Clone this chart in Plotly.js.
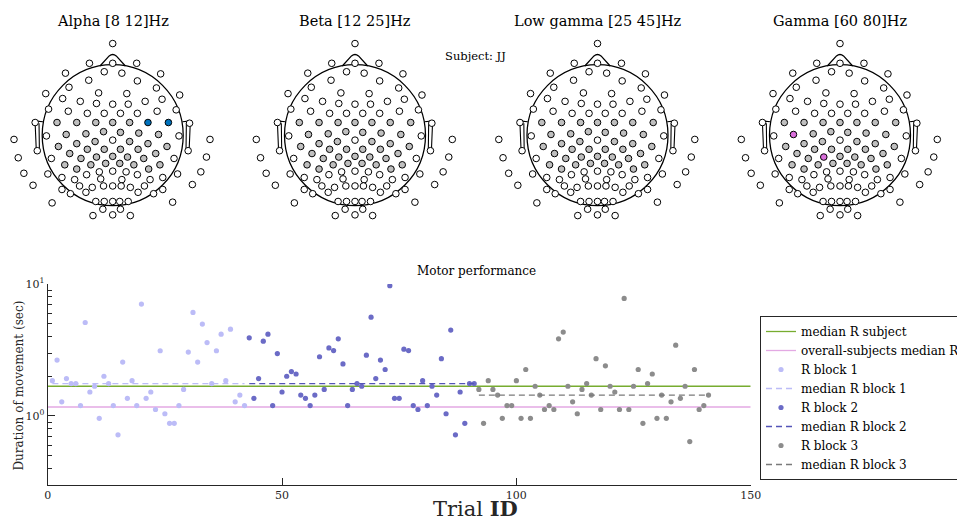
<!DOCTYPE html>
<html><head><meta charset="utf-8">
<script src="https://cdn.plot.ly/plotly-3.0.1.min.js"></script>
<style>html,body{margin:0;padding:0;background:#fff}#chart{width:957px;height:522px}</style>
</head><body><div id="chart"></div>
<script>
// ---------------- data ----------------
const bandTitles = ['Alpha [8 12]Hz', 'Beta [12 25]Hz', 'Low gamma [25 45]Hz', 'Gamma [60 80]Hz'];
const subjectLabel = 'Subject: JJ';

// electrode layout (head units, radius = 1)
const chanX = [0,-0.33,0,0.34,-0.67,-0.12,0.13,0.68,-0.34,0.35,
  -0.62,0.62,-0.95,-0.20,0.20,0.95,-0.71,0.70,-0.46,0.46,
  -0.23,0,0.22,-0.91,0.90,-0.63,0.63,-0.36,-0.12,0.11,0.35,
  -1.10,-0.79,-0.51,-0.24,0,0.24,0.50,0.79,1.09,
  -1.40,-0.94,-0.66,-0.38,-0.13,0.11,0.37,0.65,0.94,1.38,
  -0.51,-0.25,0,0.24,0.50,-0.77,0.77,-0.36,-0.12,0.11,0.36,
  -1.07,1.07,-0.61,0.61,
  -1.34,-0.87,-0.45,-0.23,0,0.21,0.44,0.87,1.33,
  -0.68,-0.31,-0.10,0.10,0.30,0.67,-0.51,0.51,
  -0.19,0,0.19,-1.26,-0.92,0.92,1.25,
  -0.37,0.35,-0.72,0.71,-0.54,-0.17,0.13,0.53,
  -1.13,-0.47,-0.29,-0.13,0,0.12,0.25,0.45,1.13,
  -0.72,0.71,-0.60,-0.38,0.36,0.58,
  -0.24,-0.12,0,0.10,0.22,-0.86,0.85,
  -0.14,0.11,-0.28,0,0.25];
const chanY = [1.30,1.02,1.02,1.02,0.88,0.90,0.88,0.87,0.78,0.77,
  0.68,0.67,0.59,0.60,0.59,0.57,0.52,0.51,0.48,0.48,
  0.45,0.44,0.44,0.37,0.36,0.34,0.34,0.31,0.31,0.31,0.31,
  0.18,0.18,0.18,0.18,0.18,0.18,0.18,0.18,0.17,
  -0.06,-0.01,0.01,0.02,0.05,0.04,0.03,0.01,-0.01,-0.06,
  -0.12,-0.09,-0.07,-0.09,-0.12,-0.16,-0.16,-0.20,-0.20,-0.20,-0.20,
  -0.22,-0.22,-0.26,-0.26,
  -0.32,-0.33,-0.33,-0.31,-0.30,-0.31,-0.33,-0.33,-0.31,
  -0.42,-0.42,-0.40,-0.40,-0.42,-0.42,-0.48,-0.48,
  -0.52,-0.51,-0.52,-0.54,-0.55,-0.55,-0.52,
  -0.56,-0.56,-0.60,-0.60,-0.63,-0.62,-0.63,-0.63,
  -0.71,-0.72,-0.74,-0.72,-0.72,-0.72,-0.74,-0.72,-0.70,
  -0.77,-0.77,-0.83,-0.81,-0.81,-0.83,
  -0.94,-0.94,-0.94,-0.94,-0.94,-0.96,-0.95,
  -1.05,-1.05,-1.14,-1.13,-1.14];
// channels (1-based) in the region of interest (grey)
const roiChannels = [33,34,35,36,37,38,39,43,44,45,46,47,48,51,52,54,55,56,57,58,59,60,61,
  64,65,68,69,70,71,72,75,76,77,78,79,80,81,82];
// significant channels per band (1-based)
const sigAlpha = [38,39];
const sigBeta = [];
const sigLowGamma = [];
const sigGamma = [43,69];
const sigColors = ['#0072bd', '#0072bd', '#0072bd', '#da6fdc'];

// motor performance
const trialsBlock1 = [1,2,3,4,5,6,7,8,9,10,11,12,13,14,15,16,17,18,19,20,21,22,23,24,25,26,27,28,29,30,31,32,33,34,35,36,37,38,39,40,41,42];
const durBlock1 = [1.85,2.65,1.28,1.92,1.76,1.76,1.20,5.11,1.52,1.68,0.96,2.00,1.76,1.20,0.72,2.56,1.36,1.85,1.20,7.05,1.36,1.52,1.12,3.12,1.04,0.88,0.88,1.20,1.59,3.05,6.09,2.56,4.97,3.60,1.76,3.12,4.17,1.85,4.55,1.28,1.44,1.20];
const trialsBlock2 = [43,44,45,46,47,48,49,50,51,52,53,54,55,56,57,58,59,60,61,62,63,64,65,66,67,68,69,70,71,72,73,74,75,76,77,78,79,80,81,82,83,84,85,86,87,88,89,90,91];
const durBlock2 = [3.91,1.36,1.92,3.69,4.17,1.20,2.97,1.52,2.00,2.17,2.08,1.44,1.36,1.20,1.44,2.81,1.59,3.28,3.13,3.84,2.48,1.20,1.59,1.76,1.68,2.89,5.61,1.92,2.65,2.25,9.71,1.36,1.36,3.21,3.13,1.20,1.12,1.85,1.20,1.68,1.44,2.72,1.04,4.48,0.72,1.52,0.88,1.76,1.76];
const trialsBlock3 = [92,93,94,95,96,97,98,99,100,101,102,103,104,105,106,107,108,109,110,111,112,113,114,115,116,117,118,119,120,121,122,123,124,125,126,127,128,129,130,131,132,133,134,135,136,137,138,139,140,141];
const durBlock3 = [1.59,0.88,1.85,1.59,1.44,0.96,1.20,1.20,1.85,0.96,2.25,0.96,1.68,1.44,1.12,1.20,1.12,3.84,4.32,1.68,1.28,1.04,1.59,1.76,1.44,2.72,1.12,2.40,1.68,1.52,1.12,7.78,1.12,1.68,2.25,0.88,1.76,2.08,0.96,1.44,0.96,1.28,3.44,1.36,1.68,0.64,2.25,1.12,1.20,1.44];
const medianSubject = 1.68;
const medianAllSubjects = 1.17;
const medianBlock1 = 1.76;
const medianBlock2 = 1.76;
const medianBlock3 = 1.44;
const xTickVals = [0, 50, 100, 150];
const yTickVals = [1, 10];
const yTickText = ['10<sup>0</sup>', '10<sup>1</sup>'];
const yMinorVals = [0.4,0.5,0.6,0.7,0.8,0.9,2,3,4,5,6,7,8,9];

// ---------------- layout helpers ----------------
const W = 957, H = 522;
const FONT = 'DejaVu Serif, Liberation Serif, serif';
const px = v => v / W;
const py = v => 1 - v / H;

const headCx = [112.7, 355, 597.5, 840];
const headCy = 135.2, headR = 70.5, headHalf = 1.55;
const sigLists = [sigAlpha, sigBeta, sigLowGamma, sigGamma];

const traces = [];
const layout = {
  width: W, height: H,
  margin: {l: 0, r: 0, t: 0, b: 0, autoexpand: false},
  paper_bgcolor: '#fff', plot_bgcolor: '#fff',
  font: {family: FONT, color: '#000'},
  showlegend: true,
  hovermode: false,
  shapes: [], annotations: []
};

bandTitles.forEach((t, i) => {
  const xa = 'xaxis' + (i + 2), ya = 'yaxis' + (i + 2);
  const xr = 'x' + (i + 2), yr = 'y' + (i + 2);
  const half = headHalf * headR;
  layout[xa] = {domain: [px(headCx[i] - half), px(headCx[i] + half)], range: [-headHalf, headHalf],
    visible: false, fixedrange: true, anchor: yr};
  layout[ya] = {domain: [py(headCy + half), py(headCy - half)], range: [-headHalf, headHalf],
    visible: false, fixedrange: true, anchor: xr};
  const colors = chanX.map((_, k) => {
    const ch = k + 1;
    if (sigLists[i].includes(ch)) return sigColors[i];
    return roiChannels.includes(ch) ? '#bfbfbf' : '#ffffff';
  });
  traces.push({
    type: 'scatter', mode: 'markers', x: chanX, y: chanY, xaxis: xr, yaxis: yr,
    showlegend: false, cliponaxis: false,
    marker: {size: 6.6, color: colors, line: {color: '#000', width: 1}}
  });
  const ln = {color: '#000', width: 1.3};
  layout.shapes.push(
    {type: 'circle', xref: xr, yref: yr, x0: -1, x1: 1, y0: -1, y1: 1, line: ln, layer: 'below'},
    {type: 'path', xref: xr, yref: yr, path: 'M -0.18 0.982 L -0.05 1.125 Q 0 1.165 0.05 1.125 L 0.18 0.982', line: ln, layer: 'below'},
    {type: 'path', xref: xr, yref: yr, path: 'M -0.99 0.19 L -1.075 0.2 Q -1.1 0.2 -1.1 0.17 L -1.085 -0.19 Q -1.08 -0.225 -1.055 -0.22 L -1.04 -0.2 L -1.045 0.17', line: {color: '#000', width: 1.1}, layer: 'below'},
    {type: 'path', xref: xr, yref: yr, path: 'M 0.99 0.19 L 1.075 0.2 Q 1.1 0.2 1.1 0.17 L 1.085 -0.19 Q 1.08 -0.225 1.055 -0.22 L 1.04 -0.2 L 1.045 0.17', line: {color: '#000', width: 1.1}, layer: 'below'}
  );
  layout.annotations.push({text: t, xref: 'paper', yref: 'paper', x: px(headCx[i]), y: py(21),
    xanchor: 'center', yanchor: 'middle', showarrow: false, font: {family: FONT, size: 14.5, color: '#000'}});
});

layout.annotations.push({text: subjectLabel, xref: 'paper', yref: 'paper', x: px(475), y: py(56),
  xanchor: 'center', yanchor: 'middle', showarrow: false, font: {family: FONT, size: 11.5, color: '#000'}});
layout.annotations.push({text: 'Motor performance', xref: 'paper', yref: 'paper', x: px(476), y: py(271),
  xanchor: 'center', yanchor: 'middle', showarrow: false, font: {family: FONT, size: 12, color: '#000'}});
layout.annotations.push({text: 'Duration of movement (sec)', xref: 'paper', yref: 'paper', x: px(18.5), y: py(386),
  xanchor: 'center', yanchor: 'middle', textangle: -90, showarrow: false, font: {family: FONT, size: 12, color: '#262626'}});
layout.annotations.push({text: 'Trial <b>ID</b>', xref: 'paper', yref: 'paper', x: px(475), y: py(508),
  xanchor: 'center', yanchor: 'middle', showarrow: false, font: {family: FONT, size: 21, color: '#262626'}});

// main axes
layout.xaxis = {domain: [px(47.7), px(750.7)], range: [0, 150], anchor: 'y',
  tickmode: 'array', tickvals: xTickVals, ticks: 'inside', ticklen: 7, tickwidth: 1, tickcolor: '#262626',
  showline: true, linecolor: '#262626', linewidth: 1, showgrid: false, zeroline: false,
  tickfont: {family: FONT, size: 11, color: '#262626'}, fixedrange: true};
layout.yaxis = {domain: [py(485), py(284)], type: 'log', range: [Math.log10(0.3), 1], anchor: 'x',
  tickmode: 'array', tickvals: yTickVals, ticktext: yTickText, ticks: 'inside', ticklen: 7, tickwidth: 1, tickcolor: '#262626',
  minor: {tickmode: 'array', tickvals: yMinorVals, ticks: 'inside', ticklen: 4.5, tickcolor: '#262626', tickwidth: 1, showgrid: false},
  showline: true, linecolor: '#262626', linewidth: 1, showgrid: false, zeroline: false,
  tickfont: {family: FONT, size: 11, color: '#262626'}, fixedrange: true};

layout.legend = {x: px(760), y: py(316), xanchor: 'left', yanchor: 'top',
  bgcolor: '#fff', bordercolor: '#262626', borderwidth: 1, itemwidth: 30,
  font: {family: FONT, size: 12, color: '#000'}, traceorder: 'normal', tracegroupgap: 0};

const c1 = '#bcbcf7', c2 = '#6b6bc6', c3 = '#8c8c8c';
traces.push(
  {type: 'scatter', mode: 'lines', name: 'median R subject', x: [0, 150], y: [medianSubject, medianSubject],
    line: {color: '#77ac30', width: 1.3}},
  {type: 'scatter', mode: 'lines', name: 'overall-subjects median R', x: [0, 150], y: [medianAllSubjects, medianAllSubjects],
    line: {color: '#e3a9e3', width: 1.3}},
  {type: 'scatter', mode: 'markers', name: 'R block 1', x: trialsBlock1, y: durBlock1,
    marker: {color: c1, size: 5.2}},
  {type: 'scatter', mode: 'lines', name: 'median R block 1', x: [trialsBlock1[0], trialsBlock1[trialsBlock1.length - 1]], y: [medianBlock1, medianBlock1],
    line: {color: c1, width: 1.3, dash: '6px,4px'}},
  {type: 'scatter', mode: 'markers', name: 'R block 2', x: trialsBlock2, y: durBlock2,
    marker: {color: c2, size: 5.2}},
  {type: 'scatter', mode: 'lines', name: 'median R block 2', x: [trialsBlock2[0], trialsBlock2[trialsBlock2.length - 1]], y: [medianBlock2, medianBlock2],
    line: {color: '#5454b8', width: 1.3, dash: '6px,4px'}},
  {type: 'scatter', mode: 'markers', name: 'R block 3', x: trialsBlock3, y: durBlock3,
    marker: {color: c3, size: 5.2}},
  {type: 'scatter', mode: 'lines', name: 'median R block 3', x: [trialsBlock3[0], trialsBlock3[trialsBlock3.length - 1]], y: [medianBlock3, medianBlock3],
    line: {color: '#7a7a7a', width: 1.3, dash: '6px,4px'}}
);

Plotly.newPlot('chart', traces, layout, {staticPlot: true, displayModeBar: false});
</script></body></html>
